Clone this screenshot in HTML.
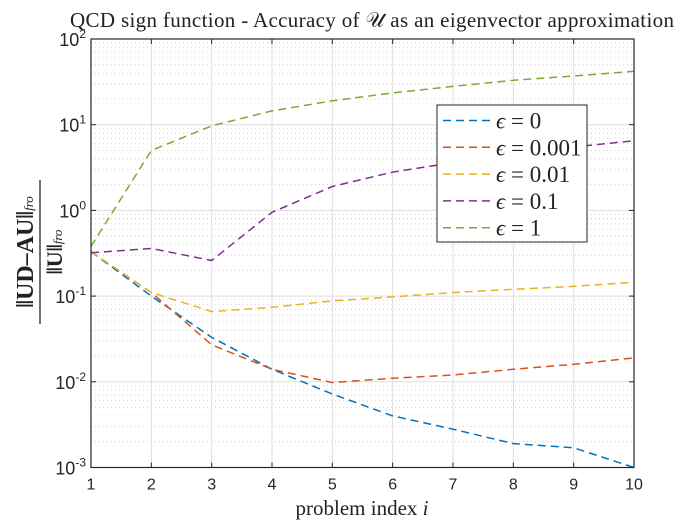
<!DOCTYPE html>
<html><head><meta charset="utf-8"><style>
body{margin:0;background:#fff;width:700px;height:525px;overflow:hidden}
svg text{font-family:"Liberation Sans",sans-serif}
.serif{font-family:"Liberation Serif",serif}
</style></head><body>
<svg id="chart" width="700" height="525" xmlns="http://www.w3.org/2000/svg">
<rect width="700" height="525" fill="#fff"/>
<g id="grid"></g>
<g id="series"></g>
<g id="axes"></g>
<text class="serif" x="372" y="27" font-size="21" text-anchor="middle" fill="#222" textLength="604">QCD sign function - Accuracy of 𝒰 as an eigenvector approximation</text>
<text class="serif" x="362" y="515" font-size="21" text-anchor="middle" fill="#222">problem index <tspan font-style="italic">i</tspan></text>
<g transform="translate(42,252) rotate(-90)">
<text class="serif" x="0" y="-9" font-size="24" font-weight="bold" text-anchor="middle" fill="#222">‖UD–AU‖<tspan font-size="13" font-style="italic" font-weight="normal">fro</tspan></text>
<line x1="-72" x2="72" y1="-2" y2="-2" stroke="#222" stroke-width="1.3"/>
<text class="serif" x="0" y="20" font-size="22" font-weight="bold" text-anchor="middle" fill="#222">‖U‖<tspan font-size="13" font-style="italic" font-weight="normal">fro</tspan></text>
</g>
<g id="legend"></g>
</svg>
<script>
const xs=[1,2,3,4,5,6,7,8,9,10];
const labels=["0","0.001","0.01","0.1","1"];
const colors=["#0072bd","#d95319","#edb120","#7e2f8e","#77ac30"];
const s0=[0.33,0.1,0.033,0.014,0.0072,0.004,0.0028,0.0019,0.0017,0.001];
const s1=[0.33,0.11,0.027,0.014,0.0098,0.011,0.012,0.014,0.016,0.019];
const s2=[0.33,0.11,0.066,0.074,0.088,0.098,0.11,0.12,0.13,0.145];
const s3=[0.32,0.36,0.26,0.95,1.9,2.8,3.6,4.5,5.5,6.5];
const s4=[0.38,5,9.7,14.5,19,23.5,28,33,37,42];
const series=[s0,s1,s2,s3,s4];
const xTicks=[1,2,3,4,5,6,7,8,9,10];
const yExps=[-3,-2,-1,0,1,2];
const L=91,R=634,T=39,B=467.5;
const X=v=>L+(v-1)/9*(R-L);
const Y=v=>T+(2-Math.log10(v))/5*(B-T);
const NS="http://www.w3.org/2000/svg";
function mk(t,a,p){const e=document.createElementNS(NS,t);for(const k in a)e.setAttribute(k,a[k]);p.appendChild(e);return e;}
const grid=document.getElementById('grid'),ax=document.getElementById('axes'),sg=document.getElementById('series'),lg=document.getElementById('legend');
for(let e=-3;e<2;e++)for(let m=2;m<10;m++){const y=Y(m*Math.pow(10,e));
const l=mk('line',{x1:L,x2:R,y1:y,y2:y,stroke:'#c8c8c8','stroke-width':0.8,'stroke-dasharray':'1,3'},grid);

}
yExps.forEach(e=>{const y=Y(Math.pow(10,e));
const l=mk('line',{x1:L,x2:R,y1:y,y2:y,stroke:'#ddd','stroke-width':1},grid);


const t=mk('text',{x:L-5,y:y+7,'font-size':18,'text-anchor':'end',fill:'#262626'},ax);


t.innerHTML='10<tspan dy="-8" font-size="12">'+e+'</tspan>';
mk('line',{x1:L,x2:L+5,y1:y,y2:y,stroke:'#262626'},ax);mk('line',{x1:R,x2:R-5,y1:y,y2:y,stroke:'#262626'},ax);});
xTicks.forEach(v=>{const x=X(v);
const l=mk('line',{x1:x,x2:x,y1:T,y2:B,stroke:'#ddd','stroke-width':1},grid);


const t=mk('text',{x:x,y:B+22,'font-size':16,'text-anchor':'middle',fill:'#262626'},ax);


t.textContent=v;
mk('line',{x1:x,x2:x,y1:B,y2:B-5,stroke:'#262626'},ax);mk('line',{x1:x,x2:x,y1:T,y2:T+5,stroke:'#262626'},ax);});
const box=mk('rect',{x:L,y:T,width:R-L,height:B-T,fill:'none',stroke:'#262626','stroke-width':1.2},ax);


series.forEach((s,i)=>{const p=mk('polyline',{points:s.map((v,j)=>X(xs[j])+','+Y(v)).join(' '),fill:'none',stroke:colors[i],'stroke-width':1.5,'stroke-dasharray':'8,5'},sg);

});
const lb=mk('rect',{x:437,y:105,width:150,height:137,fill:'#fff',stroke:'#262626','stroke-width':1},lg);


labels.forEach((lab,i)=>{const y=120.5+i*26.8;
const g=mk('g',{},lg);


mk('line',{x1:443,x2:492,y1:y,y2:y,stroke:colors[i],'stroke-width':1.5,'stroke-dasharray':'8,5'},g);
const t=mk('text',{x:496,y:y+8,'font-size':23,fill:'#222',class:'serif'},g);
t.innerHTML='<tspan font-style="italic">ϵ</tspan> = '+lab;});
</script>
</body></html>
